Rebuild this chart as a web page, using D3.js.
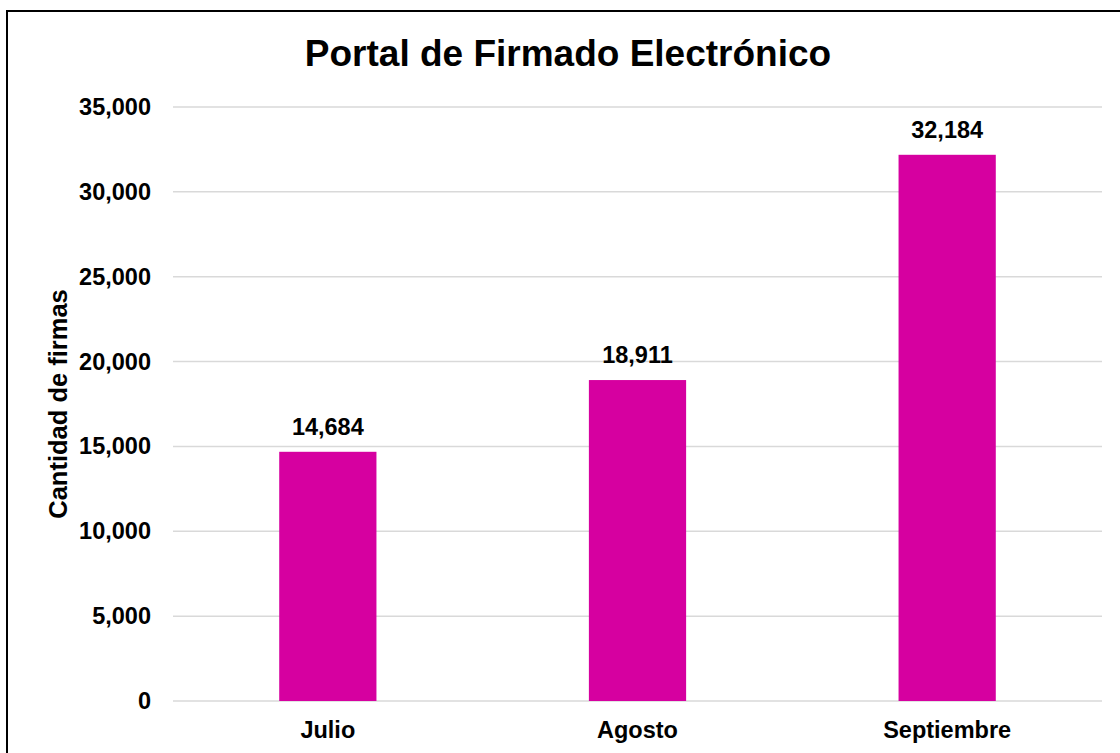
<!DOCTYPE html>
<html>
<head>
<meta charset="utf-8">
<script src="https://cdn.jsdelivr.net/npm/d3@7"></script>
<style>
  body { margin: 0; background: #fff; }
  svg { display: block; font-family: "Liberation Sans", Arial, sans-serif; }
</style>
</head>
<body>
<div id="chart"></div>
<script>
// data
var months = ["Julio", "Agosto", "Septiembre"];
var firmas = [14684, 18911, 32184];
var yTicks = [0, 5000, 10000, 15000, 20000, 25000, 30000, 35000];

var W = 1120, H = 753;
var margin = {top: 107, right: 18, bottom: 52, left: 173},
    width = W - margin.left - margin.right,
    height = H - margin.top - margin.bottom;

var svg = d3.select("#chart")
  .append("svg")
    .attr("width", W)
    .attr("height", H)
    .style("overflow", "hidden");

// outer frame (runs off the right and bottom edges)
svg.append("rect")
  .attr("x", 7)
  .attr("y", 11)
  .attr("width", 1140)
  .attr("height", 780)
  .attr("fill", "none")
  .attr("stroke", "#000")
  .attr("stroke-width", 2);

svg.append("text")
  .attr("x", 568)
  .attr("y", 66)
  .attr("text-anchor", "middle")
  .attr("font-size", 37)
  .attr("font-weight", "bold")
  .text("Portal de Firmado Electrónico");

var g = svg.append("g")
  .attr("transform", "translate(" + margin.left + "," + margin.top + ")");

var x = d3.scaleBand()
  .domain(months)
  .range([0, width])
  .padding(0);

var y = d3.scaleLinear()
  .domain([0, 35000])
  .range([height, 0]);

// gridlines
g.selectAll(".grid")
  .data(yTicks)
  .enter()
  .append("line")
    .attr("class", "grid")
    .attr("x1", 0)
    .attr("x2", width)
    .attr("y1", function(d) { return y(d) })
    .attr("y2", function(d) { return y(d) })
    .attr("stroke", "#d9d9d9")
    .attr("stroke-width", 1.5);

// y axis labels
var yAxis = g.append("g")
  .call(d3.axisLeft(y)
    .tickValues(yTicks)
    .tickFormat(d3.format(","))
    .tickSize(0)
    .tickPadding(22));
yAxis.select(".domain").remove();
yAxis.selectAll("text")
  .attr("font-size", 23.5)
  .attr("font-weight", "bold")
  .attr("fill", "#000")
  .attr("font-family", "Liberation Sans, Arial, sans-serif");

// x axis labels
var xAxis = g.append("g")
  .attr("transform", "translate(0," + height + ")")
  .call(d3.axisBottom(x).tickSize(0).tickPadding(20));
xAxis.select(".domain").remove();
xAxis.selectAll("text")
  .attr("font-size", 23.5)
  .attr("font-weight", "bold")
  .attr("fill", "#000")
  .attr("font-family", "Liberation Sans, Arial, sans-serif");

var barW = x.bandwidth() * 0.314;

g.selectAll(".bar")
  .data(firmas)
  .enter()
  .append("rect")
    .attr("class", "bar")
    .attr("x", function(d, i) { return x(months[i]) + x.bandwidth() / 2 - barW / 2 })
    .attr("y", function(d) { return y(d) })
    .attr("width", barW)
    .attr("height", function(d) { return height - y(d) })
    .attr("fill", "#d600a0");

g.selectAll(".lbl")
  .data(firmas)
  .enter()
  .append("text")
    .attr("class", "lbl")
    .attr("x", function(d, i) { return x(months[i]) + x.bandwidth() / 2 })
    .attr("y", function(d) { return y(d) - 17 })
    .attr("text-anchor", "middle")
    .attr("font-size", 23.5)
    .attr("font-weight", "bold")
    .text(function(d) { return d3.format(",")(d) });

// y axis title
svg.append("text")
  .attr("transform", "translate(67," + (margin.top + height / 2) + ") rotate(-90)")
  .attr("text-anchor", "middle")
  .attr("font-size", 25.5)
  .attr("font-weight", "bold")
  .text("Cantidad de firmas");
</script>
</body>
</html>
